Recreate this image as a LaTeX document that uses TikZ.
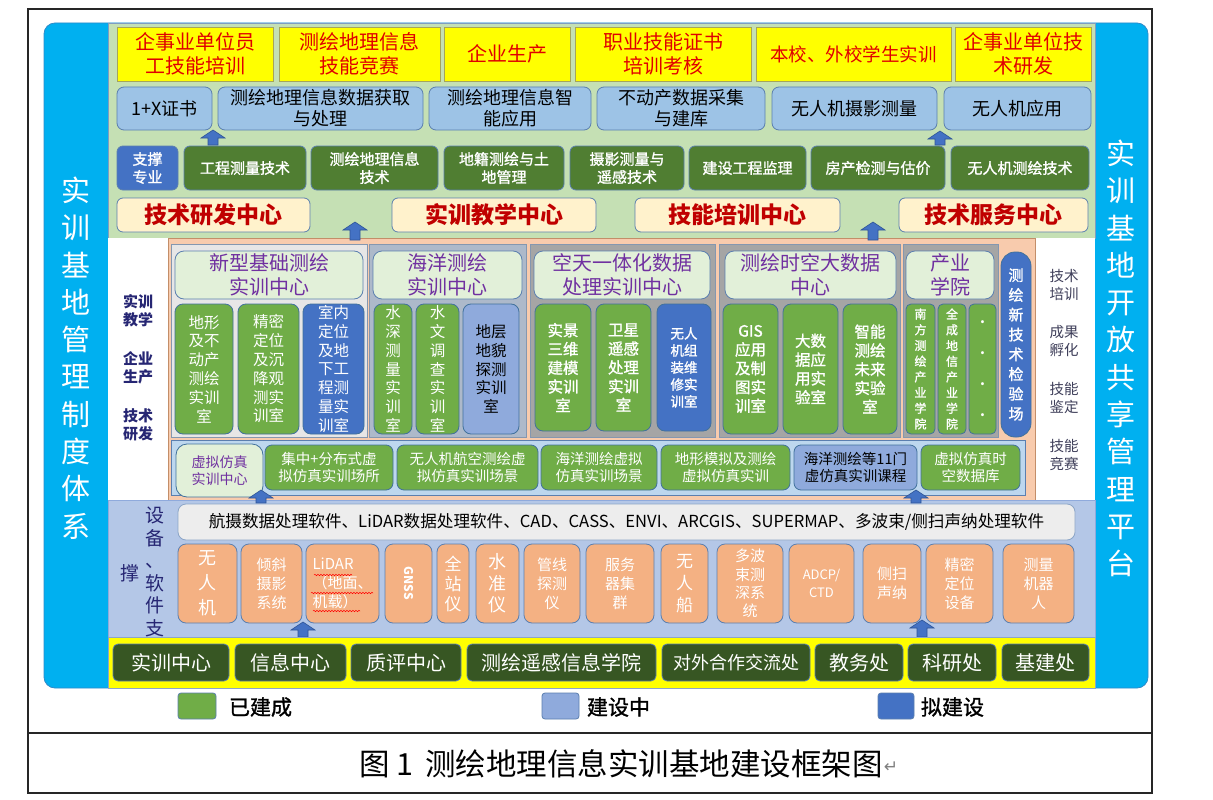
\documentclass[tikz,border=0pt]{standalone}
\usepackage{fontspec}
\setmainfont{Noto Sans CJK SC}
\newfontfamily\semib[FakeBold=1.3]{Noto Sans CJK SC}
\newfontfamily\djv{DejaVu Sans}
\usetikzlibrary{decorations.pathmorphing}
\definecolor{cyanp}{HTML}{00B0F0}
\definecolor{cyanl}{HTML}{2E8BC9}
\definecolor{topbg}{HTML}{C5E0B4}
\definecolor{secline}{HTML}{7F9CC0}
\definecolor{yel}{HTML}{FFFF00}
\definecolor{yelline}{HTML}{A5A55A}
\definecolor{redt}{HTML}{E00000}
\definecolor{darkred}{HTML}{C00000}
\definecolor{lblue}{HTML}{9DC3E6}
\definecolor{bline}{HTML}{5B7FAF}
\definecolor{dgreen}{HTML}{507E32}
\definecolor{mblue}{HTML}{4472C4}
\definecolor{cream}{HTML}{FFF2CC}
\definecolor{peach}{HTML}{F8CBAD}
\definecolor{pgray1}{HTML}{E7E6E6}
\definecolor{pgray2}{HTML}{ADB9CA}
\definecolor{pgray3}{HTML}{A5A5A5}
\definecolor{panline}{HTML}{8497B0}
\definecolor{ttl}{HTML}{E2F0D9}
\definecolor{purp}{HTML}{7030A0}
\definecolor{lgreen}{HTML}{70AD47}
\definecolor{roomline}{HTML}{41719C}
\definecolor{pblue}{HTML}{8FAADC}
\definecolor{vbg}{HTML}{BDD7EE}
\definecolor{eqbg}{HTML}{B4C7E7}
\definecolor{swbar}{HTML}{EDEDED}
\definecolor{orng}{HTML}{F4B183}
\definecolor{bgreen}{HTML}{375623}
\definecolor{navy}{HTML}{262673}
\definecolor{grayt}{HTML}{3F3F5A}
\definecolor{arrline}{HTML}{2F5597}
\newcommand\fs[2]{\fontsize{#1}{#2}\selectfont}
\newcommand\bx[7]{\node[#2,minimum width={#5pt-#3pt},minimum height={#6pt-#4pt}] (#1) at ({(#3+#5)/2},{(#4+#6)/2}) {#7};}
\newcommand\uparr[4]{\path[arrfill] (#2-5,#3) -- (#2-5,#4+8) -- (#2-12,#4+8) -- (#2,#4) -- (#2+12,#4+8) -- (#2+5,#4+8) -- (#2+5,#3) -- cycle; \coordinate (#1) at (#2,#4);}
\tikzset{
 bb/.style={inner sep=0pt,outer sep=0pt,align=center},
 sec/.style={bb,draw=secline,line width=0.8pt},
 ybox/.style={bb,fill=yel,draw=yelline,line width=0.9pt,text=redt,font=\fs{20}{24}},
 lbbox/.style={bb,fill=lblue,draw=bline,line width=0.8pt,rounded corners=7pt,font=\fs{18}{21}},
 gbox/.style={bb,fill=dgreen,draw=bline,line width=0.8pt,rounded corners=6pt,text=white,font=\semib\fs{15}{18}},
 cbox/.style={bb,fill=cream,draw=bline,line width=0.8pt,rounded corners=6pt,text=darkred,font=\bfseries\fs{23}{27}},
 pan/.style={bb,draw=panline,line width=1pt},
 ttlbox/.style={bb,fill=ttl,draw=bline,line width=0.8pt,rounded corners=9pt,text=purp,font=\fs{20}{24}},
 room/.style={bb,fill=lgreen,draw=roomline,line width=0.8pt,rounded corners=8pt,text=white,font=\fs{15.5}{18.8}},
 roomb/.style={room,font=\semib\fs{15.5}{18.8}},
 roomsm/.style={room,rounded corners=5pt,font=\semib\fs{12}{15.7}},
 vbox/.style={bb,fill=lgreen,draw=roomline,line width=0.8pt,rounded corners=7pt,text=white,font=\fs{14.5}{17.5}},
 eqb/.style={bb,fill=orng,draw=bline,line width=0.8pt,rounded corners=8pt,text=white,font=\fs{15}{19}},
 bot/.style={bb,fill=bgreen,draw=bline,line width=0.8pt,rounded corners=5pt,text=white,font=\fs{20}{22}},
 legsq/.style={bb,draw=bline,line width=0.8pt,rounded corners=3pt},
 legt/.style={bb,anchor=west,font=\semib\fs{21}{24}},
 side/.style={bb,text=white,font=\fs{29}{37.3}},
 lab/.style={bb,text=navy,font=\bfseries\fs{15}{18}},
 rlab/.style={bb,text=grayt,font=\fs{14.5}{18}},
 arrfill/.style={fill=mblue,draw=arrline,line width=0.6pt},
 squig/.style={draw=red,line width=0.5pt,decorate,decoration={snake,amplitude=0.7pt,segment length=3pt}}
}
\begin{document}
\begin{tikzpicture}[x=1pt,y=-1pt]
\useasboundingbox (0,0) rectangle (1213,800);
\fill[white] (0,0) rectangle (1213,800);
% outer frame
\draw[line width=1.1pt,black!85] (28,9) rectangle (1152,793);
\draw[line width=1.1pt,black!85] (28,733) -- (1152,733);
% cyan panel
\bx{cy}{bb,fill=cyanp,draw=cyanl,line width=0.8pt,rounded corners=11pt}{44}{23}{1148}{688}{}
\node[side] (lside) at (76,358) {实\\训\\基\\地\\管\\理\\制\\度\\体\\系};
\node[side] (rside) at (1121,358.5) {实\\训\\基\\地\\开\\放\\共\\享\\管\\理\\平\\台};
% top section
\bx{topsec}{sec,fill=topbg}{108}{23}{1095}{238}{}
\bx{y1}{ybox}{117}{27}{273}{81}{企事业单位员\\工技能培训}
\bx{y2}{ybox}{279}{27}{440}{81}{测绘地理信息\\技能竞赛}
\bx{y3}{ybox}{444}{27}{570}{81}{企业生产}
\bx{y4}{ybox}{575}{27}{751}{81}{职业技能证书\\培训考核}
\bx{y5}{ybox,font=\fs{18.5}{22}}{756}{27}{951}{81}{本校、外校学生实训}
\bx{y6}{ybox}{955}{27}{1091}{81}{企事业单位技\\术研发}
\bx{c1}{lbbox}{117}{87}{212}{130}{1+X证书}
\bx{c2}{lbbox}{218}{87}{423}{130}{测绘地理信息数据获取\\与处理}
\bx{c3}{lbbox}{429}{87}{591}{130}{测绘地理信息智\\能应用}
\bx{c4}{lbbox}{597}{87}{765}{130}{不动产数据采集\\与建库}
\bx{c5}{lbbox}{772}{87}{937}{130}{无人机摄影测量}
\bx{c6}{lbbox}{944}{87}{1091}{130}{无人机应用}
\bx{m0}{gbox,fill=mblue}{117}{146}{178}{190}{支撑\\专业}
\bx{m1}{gbox}{184}{146}{306}{190}{工程测量技术}
\bx{m2}{gbox}{311}{146}{438}{190}{测绘地理信息\\技术}
\bx{m3}{gbox}{444}{146}{564}{190}{地籍测绘与土\\地管理}
\bx{m4}{gbox}{570}{146}{684}{190}{摄影测量与\\遥感技术}
\bx{m5}{gbox}{689}{146}{806}{190}{建设工程监理}
\bx{m6}{gbox}{811}{146}{945}{190}{房产检测与估价}
\bx{m7}{gbox}{951}{146}{1089}{190}{无人机测绘技术}
\bx{k1}{cbox}{117}{198}{310}{232}{技术研发中心}
\bx{k2}{cbox}{392}{198}{596}{232}{实训教学中心}
\bx{k3}{cbox}{635}{198}{840}{232}{技能培训中心}
\bx{k4}{cbox}{899}{198}{1088}{232}{技术服务中心}
\uparr{a1}{213}{145}{130}
\uparr{a2}{940}{145}{131}
% middle section
\bx{lw}{bb,fill=white}{108}{238}{168}{500}{}
\bx{rw}{bb,fill=white}{1035}{238}{1095}{500}{}
\bx{pe}{bb,fill=peach,draw=orng!80!black,line width=0.6pt}{168}{238}{1035}{500}{}
\uparr{a3}{355}{240}{222}
\uparr{a4}{873}{240}{222}
\node[lab] (lt1) at (138,311) {实训\\教学};
\node[lab] (lt2) at (138,368) {企业\\生产};
\node[lab] (lt3) at (138,425) {技术\\研发};
\node[rlab] (rt1) at (1064,285) {技术\\培训};
\node[rlab] (rt2) at (1064,341) {成果\\孵化};
\node[rlab] (rt3) at (1064,398) {技能\\鉴定};
\node[rlab] (rt4) at (1064,455) {技能\\竞赛};
\bx{p1}{pan,fill=pgray1}{171}{244}{367}{437}{}
\bx{p2}{pan,fill=pgray2}{369}{244}{526}{437}{}
\bx{p3}{pan,fill=pgray3}{530}{244}{715}{437}{}
\bx{p4}{pan,fill=pgray3}{719}{244}{900}{437}{}
\bx{p5}{pan,fill=pgray3}{903}{244}{998}{437}{}
\bx{t1}{ttlbox}{175}{251}{363}{299}{新型基础测绘\\实训中心}
\bx{t2}{ttlbox}{373}{251}{522}{299}{海洋测绘\\实训中心}
\bx{t3}{ttlbox}{534}{251}{710}{299}{空天一体化数据\\处理实训中心}
\bx{t4}{ttlbox}{725}{251}{896}{299}{测绘时空大数据\\中心}
\bx{t5}{ttlbox}{906}{251}{994}{299}{产业\\学院}
\bx{r11}{room}{175}{304}{233}{434}{地形\\及不\\动产\\测绘\\实训\\室}
\bx{r12}{room}{238}{304}{299}{434}{精密\\定位\\及沉\\降观\\测实\\训室}
\bx{r13}{room,fill=mblue}{303}{304}{364}{434}{室内\\定位\\及地\\下工\\程测\\量实\\训室}
\bx{r21}{room}{374}{304}{412}{434}{水\\深\\测\\量\\实\\训\\室}
\bx{r22}{room}{416}{304}{459}{434}{水\\文\\调\\查\\实\\训\\室}
\bx{r23}{room,fill=pblue,text=black}{463}{304}{519}{434}{地层\\地貌\\探测\\实训\\室}
\bx{r31}{roomb}{535}{304}{591}{431}{实景\\三维\\建模\\实训\\室}
\bx{r32}{roomb}{596}{304}{651}{431}{卫星\\遥感\\处理\\实训\\室}
\bx{r33}{roomb,fill=mblue,font=\semib\fs{13.5}{17}}{657}{304}{711}{431}{无人\\机组\\装维\\修实\\训室}
\bx{r41}{roomb}{723}{304}{778}{434}{GIS\\应用\\及制\\图实\\训室}
\bx{r42}{roomb}{783}{304}{838}{434}{大数\\据应\\用实\\验室}
\bx{r43}{roomb}{843}{304}{897}{434}{智能\\测绘\\未来\\实验\\室}
\bx{r51}{roomsm}{906}{304}{935}{434}{南\\方\\测\\绘\\产\\业\\学\\院}
\bx{r52}{roomsm}{938}{304}{966}{434}{全\\成\\地\\信\\产\\业\\学\\院}
\bx{r53}{roomsm,font=\bfseries\fs{14}{31}}{969}{304}{996}{434}{.\\.\\.\\.}
\bx{jy}{roomb,fill=mblue,rounded corners=14pt,font=\semib\fs{15}{19.8}}{1001}{252}{1031}{437}{测\\绘\\新\\技\\术\\检\\验\\场}
\bx{vbg}{bb,fill=vbg,draw=bline,line width=0.6pt}{171}{440}{1025}{495}{}
\bx{v0}{vbox,fill=ttl,text=purp,rounded corners=11pt,font=\fs{14}{17.5}}{176}{444}{263}{497}{虚拟仿真\\实训中心}
\bx{v1}{vbox}{265}{445}{393}{490}{集中+分布式虚\\拟仿真实训场所}
\bx{v2}{vbox}{397}{445}{538}{490}{无人机航空测绘虚\\拟仿真实训场景}
\bx{v3}{vbox}{541}{445}{657}{490}{海洋测绘虚拟\\仿真实训场景}
\bx{v4}{vbox}{661}{445}{790}{490}{地形模拟及测绘\\虚拟仿真实训}
\bx{v5}{vbox,fill=pblue,text=black}{794}{445}{917}{490}{海洋测绘等11门\\虚仿真实训课程}
\bx{v6}{vbox}{921}{445}{1020}{490}{虚拟仿真时\\空数据库}
% equipment section
\bx{eqsec}{bb,fill=eqbg,draw=pblue,line width=0.8pt}{108}{500}{1095}{637}{}
\uparr{a5}{261}{503}{490}
\uparr{a6}{916}{503}{490}
\node[bb,text=navy,font=\fs{19}{22.5}] (eql1) at (155,572) {设\\备\\、\\软\\件\\支};
\node[bb,text=navy,font=\fs{19}{22.5}] (eql2) at (130,573) {撑};
\bx{sw}{bb,fill=swbar,draw=bline!70,line width=0.8pt,rounded corners=8pt,font=\fs{16.6}{19}}{178}{504}{1075}{540}{航摄数据处理软件、LiDAR数据处理软件、CAD、CASS、ENVI、ARCGIS、SUPERMAP、多波束/侧扫声纳处理软件}
\bx{e1}{eqb,font=\fs{18}{25}}{178}{544}{237}{623}{无\\人\\机}
\bx{e2}{eqb}{241}{544}{302}{623}{倾斜\\摄影\\系统}
\bx{e3}{eqb,align=left}{306}{544}{379}{623}{LiDAR\\（地面、\\机载）}
\bx{e4}{eqb}{385}{544}{432}{623}{}
\node[rotate=-90,text=white,font=\bfseries\fs{12}{14},inner sep=0pt] (gnss) at (e4.center) {GNSS};
\bx{e5}{eqb,font=\fs{17}{20}}{437}{544}{469}{623}{全\\站\\仪}
\bx{e6}{eqb,font=\fs{18}{21.5}}{476}{544}{519}{623}{水\\准\\仪}
\bx{e7}{eqb}{524}{544}{580}{623}{管线\\探测\\仪}
\bx{e8}{eqb}{586}{544}{654}{623}{服务\\器集\\群}
\bx{e9}{eqb,font=\fs{17}{22}}{661}{544}{708}{623}{无\\人\\船}
\bx{e10}{eqb,font=\fs{15}{18.3}}{717}{544}{783}{623}{多波\\束测\\深系\\统}
\bx{e11}{eqb,font=\fs{13}{18.3}}{789}{544}{854}{623}{ADCP/\\CTD}
\bx{e12}{eqb}{863}{544}{921}{623}{侧扫\\声纳}
\bx{e13}{eqb}{926}{544}{993}{623}{精密\\定位\\设备}
\bx{e14}{eqb}{1003}{544}{1074}{623}{测量\\机器\\人}
\path[squig] (314,575) -- (352,575);
\path[squig] (311,593) -- (373,593);
\path[squig] (313,611) -- (360,611);
\uparr{a7}{303}{637}{622}
\uparr{a8}{922}{637}{620}
% bottom strip
\bx{ybot}{bb,fill=yel,draw=bline!70,line width=0.6pt}{108}{637}{1095}{688}{}
\bx{b1}{bot}{113}{644}{229}{681}{实训中心}
\bx{b2}{bot}{235}{644}{346}{681}{信息中心}
\bx{b3}{bot}{351}{644}{461}{681}{质评中心}
\bx{b4}{bot}{467}{644}{656}{681}{测绘遥感信息学院}
\bx{b5}{bot,font=\fs{18}{20}}{662}{644}{810}{681}{对外合作交流处}
\bx{b6}{bot}{815}{644}{903}{681}{教务处}
\bx{b7}{bot}{908}{644}{996}{681}{科研处}
\bx{b8}{bot}{1002}{644}{1089}{681}{基建处}
% legend
\bx{lg1}{legsq,fill=lgreen}{178}{693}{216}{719}{}
\node[legt] (lg1t) at (229,707) {已建成};
\bx{lg2}{legsq,fill=pblue}{542}{693}{579}{719}{}
\node[legt] (lg2t) at (587,707) {建设中};
\bx{lg3}{legsq,fill=mblue}{878}{693}{914}{719}{}
\node[legt] (lg3t) at (921,707) {拟建设};
% caption
\node[bb,anchor=west,font=\fs{30.5}{34}] (cap) at (359,764) {图\hspace{7pt}1\hspace{12pt}测绘地理信息实训基地建设框架图};
\node[bb,anchor=west,text=gray,font=\djv\fs{17}{18}] (ret) at ([xshift=1pt,yshift=-3pt]cap.east) {↵};
\end{tikzpicture}
\end{document}
